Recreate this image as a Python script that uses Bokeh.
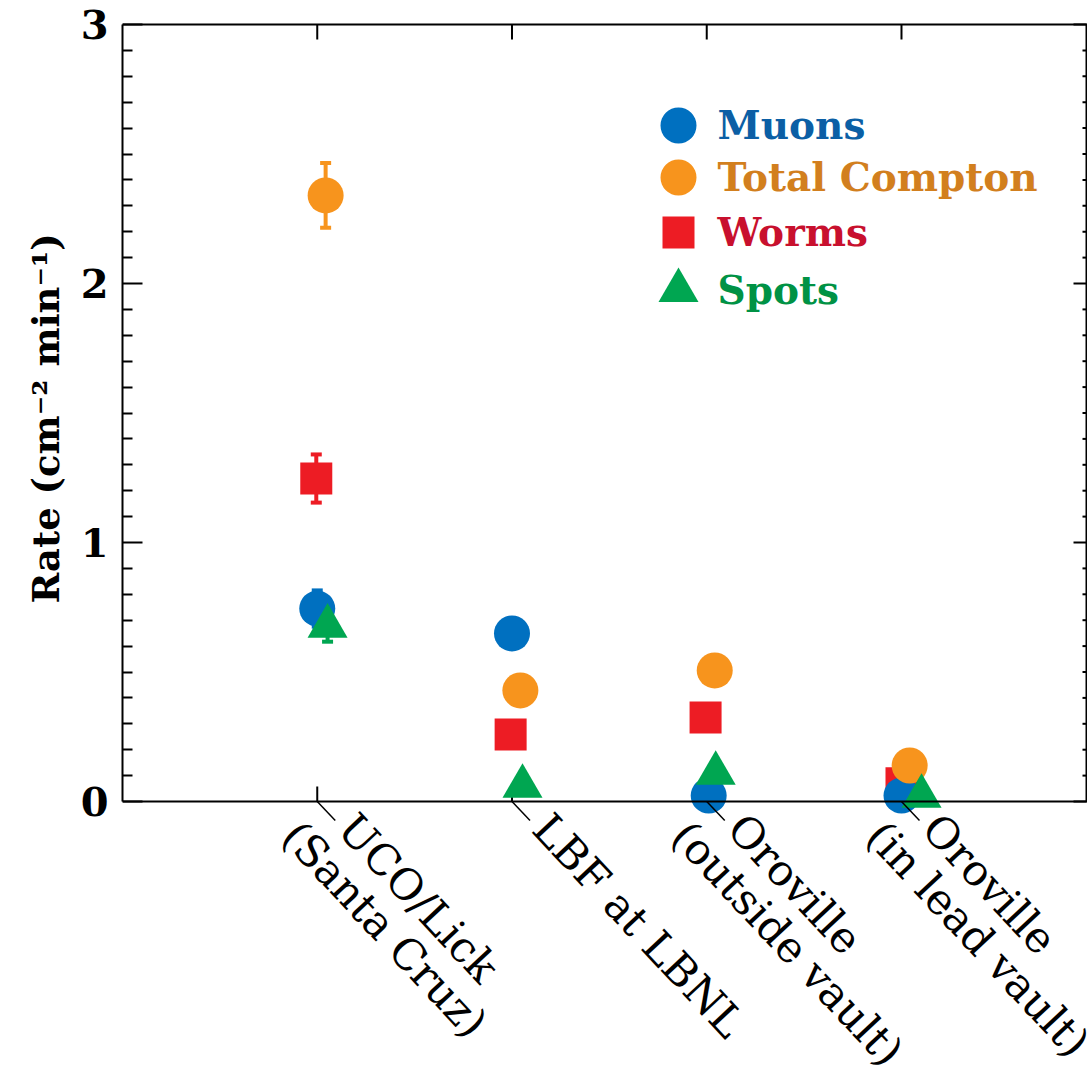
import math
from bokeh.plotting import figure
from bokeh.models import (ColumnDataSource, Range1d, FixedTicker, LinearAxis, Whisker, TeeHead,
                          Label, Span, Title)
from bokeh.core.properties import value
from bokeh.embed import file_html
from bokeh.resources import INLINE

# ---------------- data ----------------
sites = ["UCO/Lick\n(Santa Cruz)", "LBF at LBNL", "Oroville\n(outside vault)", "Oroville\n(in lead vault)"]
site_pos = [1, 2, 3, 4]

muons = [0.745, 0.649, 0.023, 0.023]
muons_err = [0.07, 0.0, 0.0, 0.0]
muons_dx = [0.0, 0.0, 0.01, 0.0]

compton = [2.34, 0.429, 0.506, 0.139]
compton_err = [0.125, 0.0, 0.0, 0.0]
compton_dx = [0.043, 0.043, 0.041, 0.042]

worms = [1.247, 0.259, 0.324, 0.07]
worms_err = [0.093, 0.0, 0.0, 0.0]
worms_dx = [-0.005, -0.007, -0.006, 0.0]

spots = [0.677, 0.059, 0.109, 0.02]
spots_err = [0.06, 0.0, 0.0, 0.0]
spots_dx = [0.053, 0.054, 0.046, 0.103]

y_ticks = [0, 1, 2, 3]
y_tick_labels = ["0", "1", "2", "3"]
y_minor = [i / 10 for i in range(1, 30) if i % 10 != 0]
y_title = "Rate (cm\u207b\u00b2 min\u207b\u00b9)"

SERIF = "DejaVu Serif"

# ---------------- layout (screen px) ----------------
W, H = 1087, 1065
AX_L, AX_R, AX_T, AX_B = 122, 1086, 24, 801      # plot box in screen px
X_MAX, Y_MAX = 4.95, 3.0
PXX = (AX_R - AX_L) / X_MAX
PXY = (AX_B - AX_T) / Y_MAX
TOP_BORDER = 20
# the frame is extended below the axis so the slanted category labels can live in it
x_range = Range1d(0, (W - AX_L) / PXX)
y_range = Range1d(-(H - AX_B) / PXY, Y_MAX + (AX_T - TOP_BORDER) / PXY)

def dx_(sx):
    return (sx - AX_L) / PXX

def dy_(sy):
    return (AX_B - sy) / PXY

p = figure(width=W, height=H, x_range=x_range, y_range=y_range,
           output_backend="svg", toolbar_location=None,
           x_axis_location=None, y_axis_location=None,
           min_border_left=AX_L, min_border_top=TOP_BORDER,
           min_border_bottom=0, min_border_right=0)
p.grid.visible = False
p.outline_line_color = None
p.background_fill_color = "white"
p.border_fill_color = "white"

# left axis (with labels)
left = LinearAxis(ticker=FixedTicker(ticks=y_ticks, minor_ticks=y_minor),
                  major_label_overrides={t: s for t, s in zip(y_ticks, y_tick_labels)},
                  bounds=(0, Y_MAX))
left.axis_line_width = 2
left.major_tick_line_width = 2
left.minor_tick_line_width = 2
left.major_tick_out = 0
left.minor_tick_out = 0
left.major_tick_in = 20
left.minor_tick_in = 10
left.major_label_standoff = 14
left.major_label_text_font = SERIF
left.major_label_text_font_style = "bold"
left.major_label_text_font_size = "40px"
left.major_label_text_color = "black"
p.add_layout(left, "left")

# y-axis title: starts (bottom) at screen y ~603
TITLE_START_Y = 603
p.add_layout(Title(text=y_title, align="left", offset=H - TITLE_START_Y, standoff=20,
                   text_font=SERIF, text_font_size="37px", text_font_style="bold",
                   text_color="black"), "left")

# other spines
p.add_layout(Span(location=Y_MAX, dimension="width", line_width=2, line_color="black"))
p.add_layout(Span(location=0, dimension="width", line_width=2, line_color="black"))
p.segment(x0=[X_MAX], y0=[0], x1=[X_MAX], y1=[Y_MAX], line_width=2, line_color="black")

# right ticks (inward)
maj_len, min_len = 13 / PXX, 4 / PXX
p.segment(x0=[X_MAX - maj_len] * len(y_ticks), y0=y_ticks, x1=[X_MAX] * len(y_ticks), y1=y_ticks,
          line_width=2, line_color="black")
p.segment(x0=[X_MAX - min_len] * len(y_minor), y0=y_minor, x1=[X_MAX] * len(y_minor), y1=y_minor,
          line_width=2, line_color="black")
# top and bottom category ticks (inward)
tk = 15 / PXY
n = len(site_pos)
p.segment(x0=site_pos, y0=[Y_MAX - tk] * n, x1=site_pos, y1=[Y_MAX] * n, line_width=2, line_color="black")
p.segment(x0=site_pos, y0=[0] * n, x1=site_pos, y1=[tk] * n, line_width=2, line_color="black")

# ---------------- series ----------------
series = [
    # name, values, err, dx, marker color, text color, marker, size
    ("Worms", worms, worms_err, worms_dx, "#ed1c24", "#c8102e", "square", 32),
    ("Muons", muons, muons_err, muons_dx, "#0070c0", "#0b5fa5", "circle", 36),
    ("Total Compton", compton, compton_err, compton_dx, "#f7941d", "#d27f1e", "circle", 36),
    ("Spots", spots, spots_err, spots_dx, "#00a651", "#009245", "triangle", 40),
]

for name, vals, err, dx, col, tcol, marker, size in series:
    xs = [c + d for c, d in zip(site_pos, dx)]
    ex = [x for x, e in zip(xs, err) if e > 0]
    eu = [v + e for v, e in zip(vals, err) if e > 0]
    el = [v - e for v, e in zip(vals, err) if e > 0]
    if ex:
        esrc = ColumnDataSource(dict(x=ex, upper=eu, lower=el))
        p.add_layout(Whisker(base="x", upper="upper", lower="lower", source=esrc,
                             line_color=col, line_width=4,
                             upper_head=TeeHead(size=11, line_color=col, line_width=4),
                             lower_head=TeeHead(size=11, line_color=col, line_width=4)))

info = {}
for name, vals, err, dx, col, tcol, marker, size in series:
    xs = [c + d for c, d in zip(site_pos, dx)]
    src = ColumnDataSource(dict(x=xs, y=vals))
    p.scatter("x", "y", source=src, marker=marker, size=size, fill_color=col, line_color=None)
    info[name] = (col, tcol, marker, size)

# ---------------- legend (coloured labels) ----------------
legend_order = ["Muons", "Total Compton", "Worms", "Spots"]
LEG_MX, LEG_TX = 678, 717
LEG_CY = [125, 177, 232, 290]
leg_src = ColumnDataSource(dict(
    x=[dx_(LEG_MX)] * 4, y=[dy_(v) for v in LEG_CY],
    tx=[dx_(LEG_TX)] * 4, ty=[dy_(v - 1) for v in LEG_CY],
    marker=[info[k][2] for k in legend_order], size=[info[k][3] for k in legend_order],
    color=[info[k][0] for k in legend_order], tcolor=[info[k][1] for k in legend_order],
    label=legend_order))
p.scatter("x", "y", marker="marker", size="size", fill_color="color", line_color=None, source=leg_src)
p.text("tx", "ty", text="label", text_color="tcolor", source=leg_src,
       text_font=value(SERIF), text_font_style="bold", text_font_size=value("39px"),
       text_align="left", text_baseline="middle")

# ---------------- category labels with leader lines ----------------
LEAD_DX, LEAD_DY = 18, 19
p.segment(x0=site_pos, y0=[0] * n, x1=[c + LEAD_DX / PXX for c in site_pos], y1=[-LEAD_DY / PXY] * n,
          line_width=1.5, line_color="black")

CAT_FS = 43
ANG = -0.82
dvec = (math.cos(-ANG), math.sin(-ANG))      # text direction on screen (y down)
nrm = (-dvec[1], dvec[0])                     # perpendicular, pointing below the text
U0, V0 = 8, -33          # first line start relative to leader end (along, across)
LINE_DU, LINE_DV = -33, 46   # shift of each following line
for c, txt in zip(site_pos, sites):
    for k, line in enumerate(txt.split("\n")):
        u = U0 + k * LINE_DU
        v = V0 + k * LINE_DV
        sx = LEAD_DX + dvec[0] * u + nrm[0] * v
        sy = LEAD_DY + dvec[1] * u + nrm[1] * v
        p.add_layout(Label(x=c, y=0, x_offset=sx, y_offset=-sy, text=line, angle=ANG,
                           text_align="left", text_baseline="top",
                           text_font=SERIF, text_font_size=f"{CAT_FS}px", text_color="black"))

open("out.html", "w").write(file_html(p, INLINE))
